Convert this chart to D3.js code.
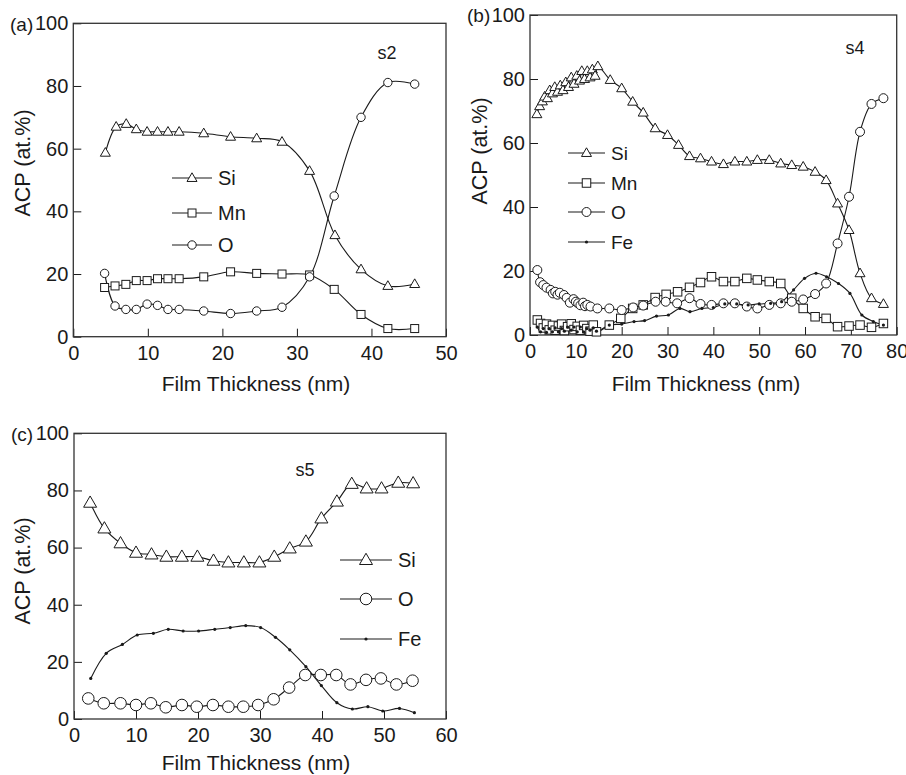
<!DOCTYPE html>
<html lang="en">
<head>
<meta charset="UTF-8">
<title>ACP depth profiles</title>
<script src="https://d3js.org/d3.v7.min.js"></script>
<style>
    body { margin: 0; background: #fff; }
    svg text { font-family: "Liberation Sans", Arial, sans-serif; fill: #1a1a1a; }
</style>
</head>
<body>
<div id="chart"></div>
<script>
    // ---- data: [thickness nm, at.%] ----
    const siA = [[4.3,58.7],[5.75,67.0],[7.1,67.9],[8.45,66.2],[9.9,65.4],[11.3,65.4],[12.7,65.4],[14.2,65.4],
        [17.5,64.9],[21.1,63.8],[24.6,63.3],[28.0,62.2],[31.7,52.9],[35.1,32.4],[38.6,21.5],[42.2,16.2],[45.8,16.8]];
    const mnA = [[4.2,15.7],[5.6,16.2],[7.05,16.7],[8.45,17.9],[9.9,17.9],[11.3,18.5],[12.7,18.5],[14.2,18.5],
        [17.5,19.1],[21.1,20.7],[24.6,20.2],[28.0,20.0],[31.7,19.7],[35.0,15.1],[38.6,7.1],[42.2,2.6],[45.8,2.6]];
    const oA = [[4.2,20.2],[5.6,9.8],[7.05,8.7],[8.45,8.7],[9.9,10.4],[11.3,10.0],[12.7,8.7],[14.2,8.7],
        [17.5,8.2],[21.1,7.4],[24.6,8.2],[28.0,9.4],[31.7,19.1],[35.0,44.9],[38.6,70.0],[42.2,81.1],[45.8,80.6]];

    const siB = [[1.5,69.0],[2.1,71.5],[2.7,73.0],[3.2,74.5],[3.8,74.0],[4.3,76.5],[4.9,75.5],[5.4,77.5],[6.0,76.0],
        [6.6,78.0],[7.2,76.5],[7.8,79.0],[8.4,77.5],[9.0,80.5],[9.6,78.5],[10.2,81.0],[10.8,79.5],[11.3,82.5],
        [11.9,80.0],[12.5,82.5],[13.1,80.5],[13.6,83.0],[14.2,81.0],[14.8,84.0],
        [17.5,79.7],[20.0,77.1],[22.4,72.9],[24.7,69.5],[27.3,64.6],[30.0,62.5],[32.4,59.4],[34.8,55.9],[37.2,55.2],
        [39.6,54.2],[42.2,53.4],[44.7,54.2],[47.3,54.2],[49.6,54.7],[52.2,54.7],[54.7,53.6],[57.1,53.1],[59.6,52.6],
        [62.2,51.0],[64.6,48.4],[67.1,41.1],[69.6,32.8],[72.0,19.3],[74.5,11.5],[77.1,9.7]];
    const mnB = [[1.6,4.7],[2.3,3.6],[2.9,2.2],[3.6,3.4],[4.2,1.6],[4.9,3.0],[5.5,1.5],[6.2,2.8],[6.9,3.4],[7.5,1.4],
        [8.2,2.6],[9.0,3.5],[9.6,1.7],[10.3,2.7],[11.0,1.5],[11.7,3.0],[12.4,2.0],[13.1,1.2],[13.8,3.1],[14.5,1.0],
        [17.3,3.1],[19.8,5.2],[22.4,8.3],[24.7,9.4],[27.3,11.7],[29.7,12.7],[32.2,13.5],[34.8,14.9],[37.2,16.4],
        [39.6,18.2],[42.2,16.7],[44.7,16.7],[47.3,17.7],[49.6,17.2],[52.2,16.7],[54.7,16.1],[57.1,11.5],[59.6,8.3],
        [62.2,5.7],[64.6,5.2],[67.1,2.6],[69.6,2.8],[72.0,3.1],[74.5,2.4],[77.1,3.6]];
    const oB = [[1.6,20.3],[2.2,16.5],[2.9,15.6],[3.6,14.8],[4.5,14.1],[5.0,13.0],[5.5,13.5],[6.0,12.6],[6.5,13.2],
        [7.4,12.5],[8.0,11.6],[8.7,10.1],[9.5,11.2],[10.0,10.4],[10.5,9.9],[11.0,9.3],[11.6,10.1],[12.0,9.0],
        [12.5,9.4],[13.2,8.9],[14.7,8.3],[17.3,8.3],[20.0,7.8],[22.5,8.6],[24.7,9.2],[27.4,10.4],[29.6,10.4],
        [32.1,9.9],[34.8,11.5],[37.2,9.7],[39.6,9.4],[42.2,9.9],[44.7,9.9],[47.3,8.9],[49.6,8.3],[52.2,9.4],
        [54.7,9.9],[57.1,10.4],[59.6,11.1],[62.2,12.8],[64.6,16.1],[67.1,28.6],[69.6,43.2],[72.0,63.5],[74.5,72.2],[77.1,74.0]];
    const feB = [[1.6,2.5],[2.3,1.0],[2.9,2.0],[3.6,0.8],[4.2,2.0],[4.9,1.0],[5.5,2.2],[6.2,1.0],[6.9,2.0],[7.5,1.2],
        [8.2,2.5],[9.0,1.5],[9.6,2.5],[10.3,1.0],[11.0,2.5],[11.7,1.0],[12.4,2.0],[13.1,1.5],[13.8,2.2],[14.5,1.2],
        [17.3,3.1],[20.0,3.4],[22.7,4.2],[25.0,4.5],[27.6,5.9],[30.2,6.25],[32.7,8.3],[34.9,7.3],[37.5,8.3],[40.0,8.6],
        [42.5,9.7],[45.1,9.7],[47.6,9.4],[50.0,9.7],[52.5,9.9],[54.9,10.4],[57.5,14.1],[59.9,17.7],[62.4,19.3],
        [64.7,18.2],[67.3,16.1],[69.8,13.0],[72.4,6.25],[74.9,4.2],[77.1,3.1]];

    const siC = [[2.6,75.7],[4.9,66.7],[7.5,61.5],[10.0,58.2],[12.5,57.6],[14.9,56.8],[17.4,56.8],[19.9,56.8],
        [22.5,55.4],[24.9,54.8],[27.4,54.8],[29.9,54.8],[32.3,56.8],[34.8,59.7],[37.4,62.1],[39.9,70.2],[42.4,76.1],
        [44.8,82.3],[47.2,80.7],[49.6,80.7],[52.3,82.7],[54.7,82.5]];
    const oC = [[2.3,7.2],[4.8,5.5],[7.5,5.5],[10.0,4.9],[12.4,5.5],[14.8,4.1],[17.4,4.9],[19.8,4.3],[22.4,4.9],
        [24.9,4.3],[27.3,4.3],[29.7,4.9],[32.2,6.9],[34.7,11.0],[37.3,15.4],[39.8,15.4],[42.3,15.4],[44.6,12.1],
        [47.1,13.7],[49.5,14.2],[52.0,12.1],[54.6,13.4]];
    const feC = [[2.7,14.2],[5.2,23.0],[7.8,26.1],[10.2,29.4],[12.8,30.0],[15.2,31.4],[17.6,30.8],[20.1,30.8],
        [22.7,31.4],[25.2,32.0],[27.7,32.7],[30.1,32.0],[32.5,28.6],[34.8,24.2],[37.4,18.3],[39.9,11.7],[42.4,5.7],
        [44.9,3.5],[47.4,4.3],[49.8,2.8],[52.5,3.7],[54.9,2.2]];

    const yTicks = [0, 20, 40, 60, 80, 100];
    const xTicksA = [0, 10, 20, 30, 40, 50];
    const xTicksB = [0, 10, 20, 30, 40, 50, 60, 70, 80];
    const xTicksC = [0, 10, 20, 30, 40, 50, 60];

    const W = 906, H = 775;
    const ink = "#1a1a1a";

    const svg = d3.select("#chart").append("svg")
        .attr("width", W).attr("height", H);

    function triPath(s) {
        const h = s * Math.sqrt(3) / 2;
        return `M0,${-h * 0.6}L${s / 2},${h * 0.4}L${-s / 2},${h * 0.4}Z`;
    }

    function drawMarker(g, type, x, y, m) {
        if (type === "tri") {
            g.append("path").attr("d", triPath(m.tri))
                .attr("transform", `translate(${x},${y})`)
                .attr("fill", "#fff").attr("stroke", ink).attr("stroke-width", 1);
        } else if (type === "sq") {
            g.append("rect").attr("x", x - m.sq / 2).attr("y", y - m.sq / 2)
                .attr("width", m.sq).attr("height", m.sq)
                .attr("fill", "#fff").attr("stroke", ink).attr("stroke-width", 1);
        } else if (type === "circ") {
            g.append("circle").attr("cx", x).attr("cy", y).attr("r", m.circ)
                .attr("fill", "#fff").attr("stroke", ink).attr("stroke-width", 1);
        } else {
            g.append("circle").attr("cx", x).attr("cy", y).attr("r", 1.6).attr("fill", ink);
        }
    }

    function drawPanel(p) {
        const x = d3.scaleLinear().domain(p.xDomain).range([p.left, p.right]);
        const y = d3.scaleLinear().domain([0, 100]).range([p.bottom, p.top]);
        const g = svg.append("g");

        // ticks point inward, like the original
        g.append("g").attr("transform", `translate(0,${p.bottom})`)
            .call(d3.axisBottom(x).tickValues(p.xTicks).tickSizeInner(-8).tickSizeOuter(0).tickPadding(9))
            .call(a => a.select(".domain").remove())
            .call(a => a.selectAll("line").attr("stroke", ink))
            .call(a => a.selectAll("text").attr("font-size", 20).attr("fill", ink)
                .attr("font-family", "Liberation Sans, Arial, sans-serif"));
        g.append("g").attr("transform", `translate(${p.left},0)`)
            .call(d3.axisLeft(y).tickValues(yTicks).tickSizeInner(-8).tickSizeOuter(0).tickPadding(5))
            .call(a => a.select(".domain").remove())
            .call(a => a.selectAll("line").attr("stroke", ink))
            .call(a => a.selectAll("text").attr("font-size", 20).attr("fill", ink)
                .attr("font-family", "Liberation Sans, Arial, sans-serif"));

        g.append("rect").attr("x", p.left).attr("y", p.top)
            .attr("width", p.right - p.left).attr("height", p.bottom - p.top)
            .attr("fill", "none").attr("stroke", "#333").attr("stroke-width", 1.3);

        const line = d3.line().x(d => x(d[0])).y(d => y(d[1]))
            .curve(d3.curveCatmullRom.alpha(0.5));

        p.series.forEach(s => {
            g.append("path").attr("d", line(s.data))
                .attr("fill", "none").attr("stroke", ink).attr("stroke-width", 1.1);
        });
        p.series.forEach(s => {
            s.data.forEach(d => drawMarker(g, s.type, x(d[0]), y(d[1]), p.m));
        });

        // legend
        p.series.forEach((s, i) => {
            const ly = p.legend.ys[i];
            g.append("line").attr("x1", p.legend.x0).attr("x2", p.legend.x1)
                .attr("y1", ly).attr("y2", ly).attr("stroke", ink).attr("stroke-width", 1.1);
            drawMarker(g, s.type, (p.legend.x0 + p.legend.x1) / 2, ly, p.m);
            g.append("text").attr("x", p.legend.x1 + 6).attr("y", ly + 7)
                .attr("font-size", p.legend.fs).text(s.name);
        });

        g.append("text").attr("x", p.tag[0]).attr("y", p.tag[1]).attr("font-size", 19).text(p.tagText);
        g.append("text").attr("x", p.sample[0]).attr("y", p.sample[1]).attr("font-size", 18)
            .attr("text-anchor", "middle").text(p.sampleText);

        g.append("text").attr("transform", `translate(${p.yTitle[0]},${p.yTitle[1]}) rotate(-90)`)
            .attr("text-anchor", "middle").attr("font-size", 21.5).text("ACP (at.%)");
        g.append("text").attr("x", p.xTitle[0]).attr("y", p.xTitle[1])
            .attr("text-anchor", "middle").attr("font-size", 21).text("Film Thickness (nm)");
    }

    drawPanel({
        left: 73.3, right: 446, top: 23.3, bottom: 336.7, xDomain: [0, 50], xTicks: xTicksA,
        m: {tri: 10, sq: 8, circ: 4.2},
        series: [{name: "Si", type: "tri", data: siA}, {name: "Mn", type: "sq", data: mnA}, {name: "O", type: "circ", data: oA}],
        legend: {x0: 172, x1: 212, ys: [178, 213, 245], fs: 20},
        tag: [10, 31], tagText: "(a)", sample: [387, 59], sampleText: "s2",
        yTitle: [30, 163], xTitle: [256, 391]
    });

    drawPanel({
        left: 530, right: 896.7, top: 15, bottom: 335, xDomain: [0, 80], xTicks: xTicksB,
        m: {tri: 10, sq: 8.5, circ: 4.5},
        series: [{name: "Si", type: "tri", data: siB}, {name: "Mn", type: "sq", data: mnB},
            {name: "O", type: "circ", data: oB}, {name: "Fe", type: "dot", data: feB}],
        legend: {x0: 568, x1: 605, ys: [153, 183, 212, 242], fs: 19},
        tag: [467, 22], tagText: "(b)", sample: [855, 54], sampleText: "s4",
        yTitle: [487, 151], xTitle: [706, 391]
    });

    drawPanel({
        left: 74, right: 446, top: 433.3, bottom: 719, xDomain: [0, 60], xTicks: xTicksC,
        m: {tri: 13, sq: 9, circ: 5.8},
        series: [{name: "Si", type: "tri", data: siC}, {name: "O", type: "circ", data: oC}, {name: "Fe", type: "dot", data: feC}],
        legend: {x0: 340, x1: 392, ys: [560, 599, 639], fs: 20},
        tag: [11, 441], tagText: "(c)", sample: [305, 476], sampleText: "s5",
        yTitle: [30, 571], xTitle: [256, 770]
    });
</script>
</body>
</html>
